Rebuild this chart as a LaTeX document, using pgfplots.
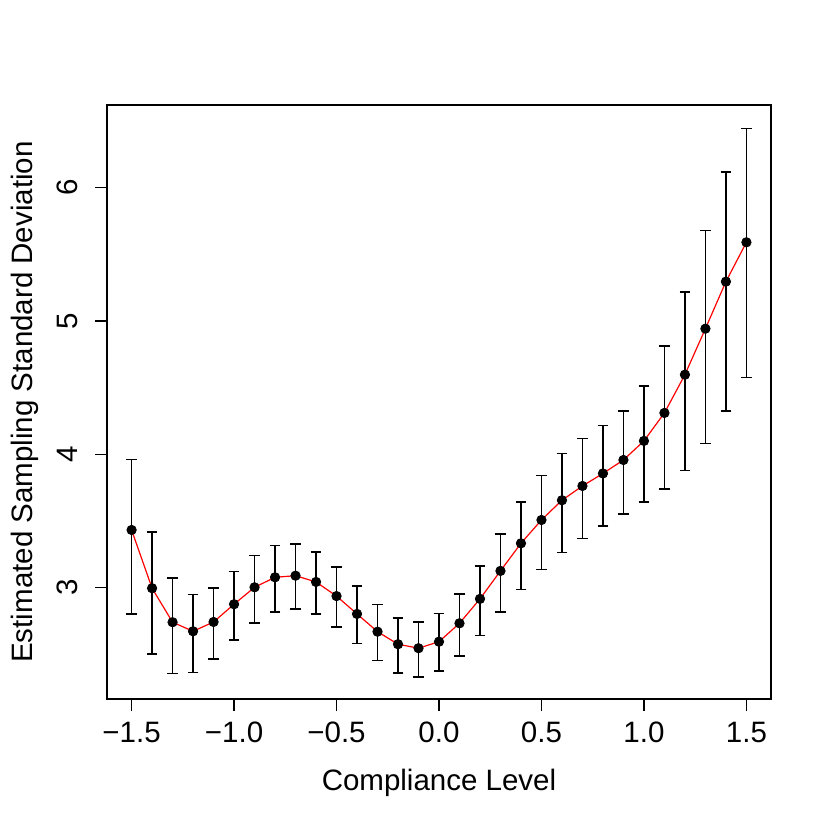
\documentclass[border=0pt]{standalone}
\usepackage{fontspec}
\setmainfont{Liberation Sans}
\usepackage{pgfplots}
\usepackage{pgfplotstable}
\pgfplotsset{compat=1.18}
\pgfplotstableread{
x y lo hi
-1.5 3.432 2.802 3.962
-1.4 2.995 2.500 3.417
-1.3 2.740 2.354 3.072
-1.2 2.672 2.362 2.947
-1.1 2.742 2.464 2.995
-1.0 2.875 2.607 3.120
-0.9 3.002 2.734 3.242
-0.8 3.077 2.817 3.314
-0.7 3.089 2.840 3.325
-0.6 3.042 2.800 3.265
-0.5 2.936 2.704 3.155
-0.4 2.802 2.579 3.010
-0.3 2.669 2.452 2.872
-0.2 2.575 2.359 2.772
-0.1 2.545 2.329 2.742
0.0 2.594 2.373 2.805
0.1 2.732 2.488 2.952
0.2 2.915 2.641 3.163
0.3 3.125 2.818 3.402
0.4 3.332 2.987 3.642
0.5 3.507 3.137 3.842
0.6 3.655 3.262 4.005
0.7 3.762 3.367 4.120
0.8 3.856 3.462 4.215
0.9 3.957 3.552 4.325
1.0 4.100 3.640 4.512
1.1 4.310 3.740 4.812
1.2 4.597 3.877 5.217
1.3 4.942 4.080 5.677
1.4 5.295 4.325 6.117
1.5 5.590 4.575 6.445
}\datatable
\begin{document}
\begin{tikzpicture}
\path[use as bounding box] (-53.5pt,-65.5pt) rectangle (361.5pt,349.5pt);
\begin{axis}[
  at={(0pt,0pt)}, anchor=south west,
  scale only axis, width=332pt, height=297pt,
  xmin=-1.62, xmax=1.62, ymin=2.164, ymax=6.62,
  font=\fontsize{14.75}{17}\selectfont,
  axis line style={line width=0.7pt},
  tick style={line width=0.7pt, black},
  tick align=outside, major tick length=6pt,
  xtick={-1.5,-1,-0.5,0,0.5,1,1.5},
  xticklabels={−1.5,−1.0,−0.5,0.0,0.5,1.0,1.5},
  ytick={3,4,5,6},
  yticklabels={3,4,5,6},
  xtick pos=bottom, ytick pos=left,
  xticklabel style={anchor=base},
  xticklabel shift=15.5pt,
  yticklabel style={rotate=90, anchor=base},
  yticklabel shift=8.5pt,
  xlabel={Compliance Level},
  ylabel={Estimated Sampling Standard Deviation},
  xlabel style={at={([yshift=-45.5pt]axis description cs:0.5,0)}, anchor=base},
  ylabel style={at={([xshift=-37pt]axis description cs:0,0.5)}, rotate=0, anchor=base},
]
\addplot[red, line width=0.6pt, no markers] table[x=x, y=y] {\datatable};
\addplot[black, only marks, mark=*, mark size=2.35pt,
  error bars/.cd, y dir=both, y explicit,
  error bar style={line width=0.75pt, black},
  error mark options={black, line width=0.75pt, mark size=2.67pt, rotate=90}]
  table[x=x, y=y, y error plus expr=\thisrow{hi}-\thisrow{y}, y error minus expr=\thisrow{y}-\thisrow{lo}] {\datatable};
\end{axis}
\end{tikzpicture}
\end{document}
